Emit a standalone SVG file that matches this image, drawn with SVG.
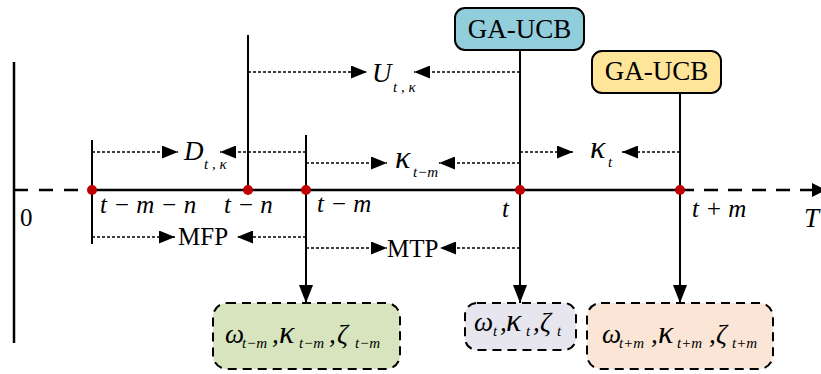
<svg xmlns="http://www.w3.org/2000/svg" width="821" height="374" viewBox="0 0 821 374">
<defs>
<style>
.ax{stroke:#000;stroke-width:2.5;fill:none}
.vl{stroke:#000;stroke-width:2;fill:none}
.dt{stroke:#000;stroke-width:1.6;stroke-dasharray:3 2;fill:none}
.m{font-family:"Liberation Serif","DejaVu Serif",serif;font-style:italic;font-size:27px;fill:#000}
.k{font-family:"Liberation Serif","DejaVu Serif",serif;font-style:italic;font-size:32px;fill:#000}
.l{font-family:"Liberation Serif","DejaVu Serif",serif;font-style:italic;font-size:25px;fill:#000}
.s{font-family:"Liberation Serif","DejaVu Serif",serif;font-style:italic;font-size:15px;fill:#000}
.r{font-family:"Liberation Serif","DejaVu Serif",serif;font-size:25px;fill:#000}
.g{font-family:"Liberation Serif","DejaVu Serif",serif;font-size:27px;fill:#000;text-anchor:middle}
.bx{stroke:#000;stroke-width:2;stroke-dasharray:9 6}
.gu{stroke:#000;stroke-width:2}
.dot{fill:#c00000}
</style>
<marker id="ah" markerUnits="userSpaceOnUse" markerWidth="16" markerHeight="13" refX="16" refY="6.5" orient="auto">
<path d="M0,0 L16,6.5 L0,13 z" fill="#000"/>
</marker>
<marker id="dn" markerUnits="userSpaceOnUse" markerWidth="18" markerHeight="14" refX="18" refY="7" orient="auto">
<path d="M0,0 L18,7 L0,14 z" fill="#000"/>
</marker>
<marker id="ta" markerUnits="userSpaceOnUse" markerWidth="14" markerHeight="14" refX="14" refY="7" orient="auto">
<path d="M0,0 L14,7 L0,14 z" fill="#000"/>
</marker>
</defs>

<g id="axis">
<line class="ax" x1="14" y1="62" x2="14" y2="343"/>
<line class="ax" x1="14" y1="190" x2="92" y2="190" stroke-dasharray="14 11"/>
<line class="ax" x1="92" y1="190" x2="680" y2="190"/>
<line class="ax" x1="680" y1="190" x2="826" y2="190" stroke-dasharray="14 10" marker-end="url(#ta)"/>
<text class="r" x="20" y="226" font-size="26">0</text>
<text class="m" x="804" y="227">T</text>
</g>

<g id="connectors">
<line class="vl" x1="92" y1="140" x2="92" y2="244"/>
<line class="vl" x1="248" y1="35" x2="248" y2="190"/>
<line class="vl" x1="306" y1="135" x2="306" y2="303" marker-end="url(#dn)"/>
<line class="vl" x1="520" y1="50" x2="520" y2="303" marker-end="url(#dn)"/>
<line class="vl" x1="680" y1="93" x2="680" y2="303" marker-end="url(#dn)"/>

<line class="dt" x1="248" y1="72" x2="367" y2="72" marker-end="url(#ah)"/>
<line class="dt" x1="520" y1="72" x2="414" y2="72" marker-end="url(#ah)"/>
<line class="dt" x1="92" y1="152" x2="178" y2="152" marker-end="url(#ah)"/>
<line class="dt" x1="306" y1="152" x2="220" y2="152" marker-end="url(#ah)"/>
<line class="dt" x1="306" y1="163" x2="387" y2="163" marker-end="url(#ah)"/>
<line class="dt" x1="520" y1="163" x2="439" y2="163" marker-end="url(#ah)"/>
<line class="dt" x1="520" y1="152" x2="573" y2="152" marker-end="url(#ah)"/>
<line class="dt" x1="680" y1="152" x2="622" y2="152" marker-end="url(#ah)"/>
<line class="dt" x1="92" y1="237" x2="175" y2="237" marker-end="url(#ah)"/>
<line class="dt" x1="306" y1="237" x2="237" y2="237" marker-end="url(#ah)"/>
<line class="dt" x1="306" y1="248" x2="387" y2="248" marker-end="url(#ah)"/>
<line class="dt" x1="520" y1="248" x2="440" y2="248" marker-end="url(#ah)"/>
</g>

<g id="points">
<circle class="dot" cx="92" cy="190" r="5"/>
<circle class="dot" cx="248" cy="190" r="5"/>
<circle class="dot" cx="306" cy="190" r="5"/>
<circle class="dot" cx="520" cy="190" r="5"/>
<circle class="dot" cx="680" cy="190" r="5"/>
<text class="l" x="100" y="213">t − m − n</text>
<text class="l" x="224" y="213">t − n</text>
<text class="l" x="317" y="212">t − m</text>
<text class="l" x="502" y="217">t</text>
<text class="l" x="692" y="217">t + m</text>
</g>

<g id="labels">
<text class="m" x="372" y="82" font-size="28">U</text>
<text class="s" x="393" y="92">t , κ</text>
<text class="m" x="184" y="160">D</text>
<text class="s" x="204" y="169">t , κ</text>
<text class="k" x="395" y="168">κ</text>
<text class="s" x="413" y="177">t−m</text>
<text class="k" x="590" y="158">κ</text>
<text class="s" x="608" y="167">t</text>
<text class="r" x="178" y="245">MFP</text>
<text class="r" x="387" y="257">MTP</text>
</g>

<g id="ga-ucb-1">
<rect class="gu" x="455" y="8" width="129" height="42" rx="10" fill="#92cddc"/>
<text class="g" x="519.5" y="38">GA-UCB</text>
</g>

<g id="ga-ucb-2">
<rect class="gu" x="592" y="51" width="129" height="42" rx="10" fill="#fee599"/>
<text class="g" x="656.5" y="80">GA-UCB</text>
</g>

<g id="params-t-m">
<rect class="bx" x="213" y="303" width="187" height="66" rx="14" fill="#d7e4bd"/>
<text class="m" x="225" y="343">ω</text>
<text class="s" x="242" y="348">t−m</text>
<text class="m" x="272" y="343">,</text>
<text class="k" x="279" y="343">κ</text>
<text class="s" x="299" y="348">t−m</text>
<text class="m" x="329" y="343">,</text>
<text class="m" x="337" y="343" font-size="29">ζ</text>
<text class="s" x="355" y="348">t−m</text>
</g>

<g id="params-t">
<rect class="bx" x="465" y="303" width="111" height="47" rx="12" fill="#e7e6ef"/>
<text class="m" x="474" y="331">ω</text>
<text class="s" x="493" y="336">t</text>
<text class="m" x="500" y="331">,</text>
<text class="k" x="506" y="331">κ</text>
<text class="s" x="526" y="336">t</text>
<text class="m" x="533" y="331">,</text>
<text class="m" x="540" y="331" font-size="29">ζ</text>
<text class="s" x="557" y="336">t</text>
</g>

<g id="params-t-plus-m">
<rect class="bx" x="587" y="303" width="186" height="66" rx="14" fill="#fbe5d6"/>
<text class="m" x="602" y="343">ω</text>
<text class="s" x="619" y="348">t+m</text>
<text class="m" x="651" y="343">,</text>
<text class="k" x="658" y="343">κ</text>
<text class="s" x="677" y="348">t+m</text>
<text class="m" x="709" y="343">,</text>
<text class="m" x="716" y="343" font-size="29">ζ</text>
<text class="s" x="732" y="348">t+m</text>
</g>
</svg>
